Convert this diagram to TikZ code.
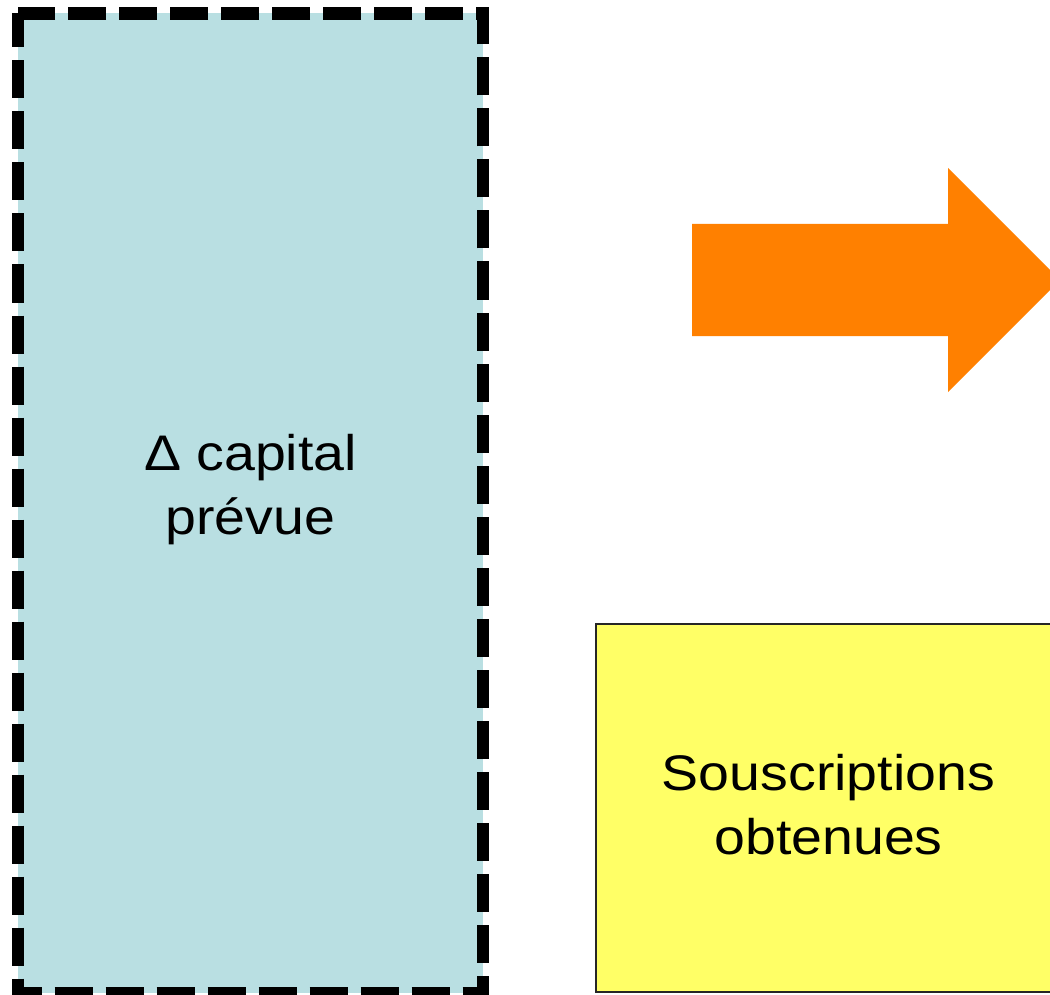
\documentclass[tikz,border=0pt]{standalone}
\usepackage{fontspec}
\setmainfont{Liberation Sans}[FakeStretch=1.11]
\usetikzlibrary{calc}
\definecolor{capblue}{HTML}{B9DFE2}
\definecolor{arroworange}{HTML}{FF8000}
\definecolor{subyellow}{HTML}{FFFF66}
\tikzset{
  capbox/.style={rectangle, fill=capblue, inner sep=0pt, outer sep=0pt,
    minimum width=465pt, minimum height=979.5pt},
  capedge/.style={draw=black, line width=12.5pt, dash pattern=on 38pt off 13pt,
    dash phase=4pt, line join=miter, line cap=butt},
  subbox/.style={rectangle, fill=subyellow, draw=black!85, line width=2pt,
    inner sep=0pt, outer sep=0pt, minimum width=465pt, minimum height=368pt},
  bigarrow/.style={fill=arroworange, draw=none},
  lbl/.style={inner sep=0pt, outer sep=0pt, anchor=base,
    font=\fontsize{50}{64}\selectfont}
}
\begin{document}
\begin{tikzpicture}[x=1pt, y=-1pt]
  \useasboundingbox (0,0) rectangle (1050,995);
  \clip (0,0) rectangle (1050,995);

  % planned capital increase: shaded column with a heavy dashed outline
  \node[capbox] (cap) at (250.5,503.25) {};
  \draw[capedge] (cap.north west) -- (cap.south west) -- (cap.south east)
    -- (cap.north east) -- (cap.north west);
  \node[lbl] (captext) at (250.5,470)
    {\begin{tabular}[t]{@{}c@{}}Δ capital\\prévue\end{tabular}};

  % block arrow pointing right
  \coordinate (tail) at (692,280);
  \fill[bigarrow] ($(tail)+(0,-56)$) -- (948,224) -- (948,168) -- (1060,280)
    -- (948,392) -- (948,336) -- ($(tail)+(0,56)$) -- cycle;

  % subscriptions obtained
  \node[subbox] (sub) at (828.5,808) {};
  \node[lbl] (subtext) at (828.5,790)
    {\begin{tabular}[t]{@{}c@{}}Souscriptions\\obtenues\end{tabular}};
\end{tikzpicture}
\end{document}
